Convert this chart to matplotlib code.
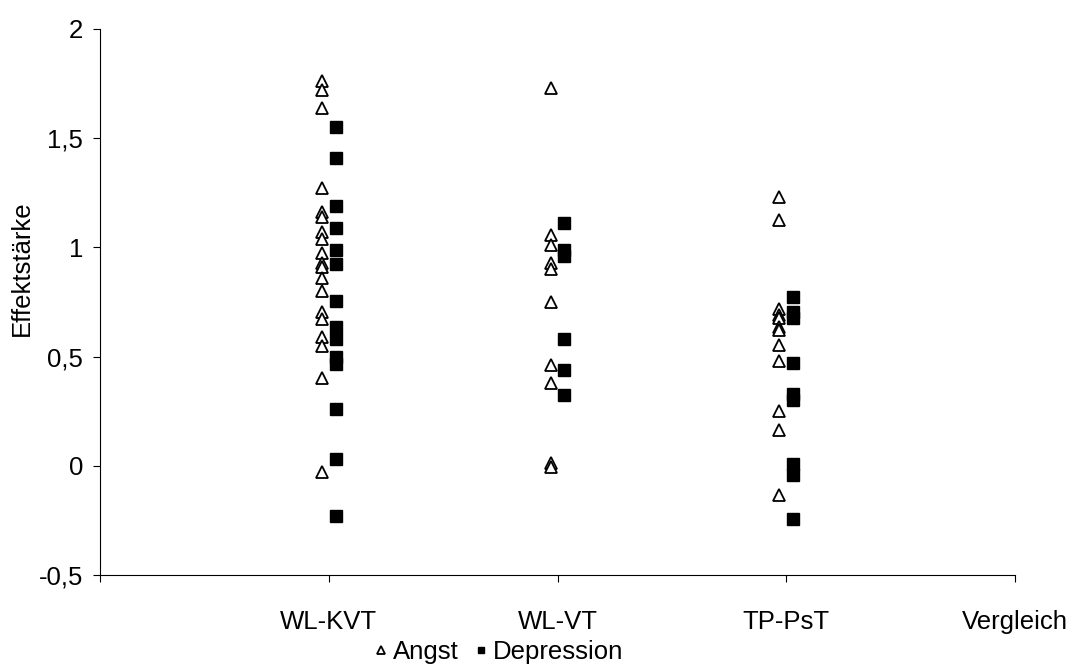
import numpy as np
import matplotlib.pyplot as plt

plt.rcParams['font.family'] = ['Liberation Sans', 'DejaVu Sans']

categories = ["WL-KVT", "WL-VT", "TP-PsT", "Vergleich"]

# Effektstärken je Vergleichsbedingung
angst = {
    "WL-KVT": [1.76, 1.72, 1.64, 1.27, 1.16, 1.14, 1.07, 1.04, 0.975, 0.93,
               0.91, 0.86, 0.80, 0.705, 0.67, 0.59, 0.55, 0.40, -0.03],
    "WL-VT": [1.73, 1.055, 1.01, 0.93, 0.90, 0.75, 0.46, 0.38, 0.015, -0.005],
    "TP-PsT": [1.23, 1.125, 0.72, 0.69, 0.675, 0.635, 0.62, 0.555, 0.48,
               0.25, 0.165, -0.135],
}
depression = {
    "WL-KVT": [1.55, 1.41, 1.19, 1.09, 0.99, 0.925, 0.755, 0.635, 0.58,
               0.50, 0.465, 0.26, 0.03, -0.23],
    "WL-VT": [1.11, 0.99, 0.96, 0.58, 0.44, 0.325],
    "TP-PsT": [0.775, 0.705, 0.675, 0.47, 0.33, 0.30, 0.01, -0.04, -0.245],
}

W, H = 1092, 664
fig = plt.figure(figsize=(W / 100, H / 100), dpi=100)
ax = fig.add_axes([100 / W, 1 - 575 / H, 915 / W, 546 / H])

for i, cat in enumerate(categories[:3], start=1):
    ya = angst[cat]
    yd = depression[cat]
    ax.plot(np.full(len(ya), i - 0.03), ya, linestyle='none', marker='^',
            markersize=9, markerfacecolor='white', markeredgecolor='black',
            markeredgewidth=1.3, label='Angst' if i == 1 else None)
    ax.plot(np.full(len(yd), i + 0.03), yd, linestyle='none', marker='s',
            markersize=8, markerfacecolor='black', markeredgecolor='black',
            label='Depression' if i == 1 else None)

ax.set_xlim(0, 4)
ax.set_ylim(-0.5, 2)
ax.set_xticks([0, 1, 2, 3, 4])
ax.set_xticklabels([""] + categories)
ax.set_yticks([-0.5, 0, 0.5, 1, 1.5, 2])
ax.set_yticklabels(["-0,5", "0", "0,5", "1", "1,5", "2"])
ax.tick_params(axis='x', direction='out', length=5, width=0.8, pad=20, labelsize=18.5)
ax.tick_params(axis='y', direction='out', length=5, width=0.8, pad=7, labelsize=18.5)
for side in ('top', 'right'):
    ax.spines[side].set_visible(False)
for side in ('left', 'bottom'):
    ax.spines[side].set_linewidth(0.8)

fig.text(22 / W, 1 - 268 / H, "Effektstärke", rotation=90, fontsize=18.5,
         ha='center', va='center')

fig.legend(loc='center', bbox_to_anchor=(497 / W, 1 - 652 / H), ncol=2,
           frameon=False, fontsize=18.5, markerscale=0.6, handletextpad=0.05,
           columnspacing=0.5, handlelength=0.8, borderpad=0)

fig.savefig("out.png", dpi=100)
